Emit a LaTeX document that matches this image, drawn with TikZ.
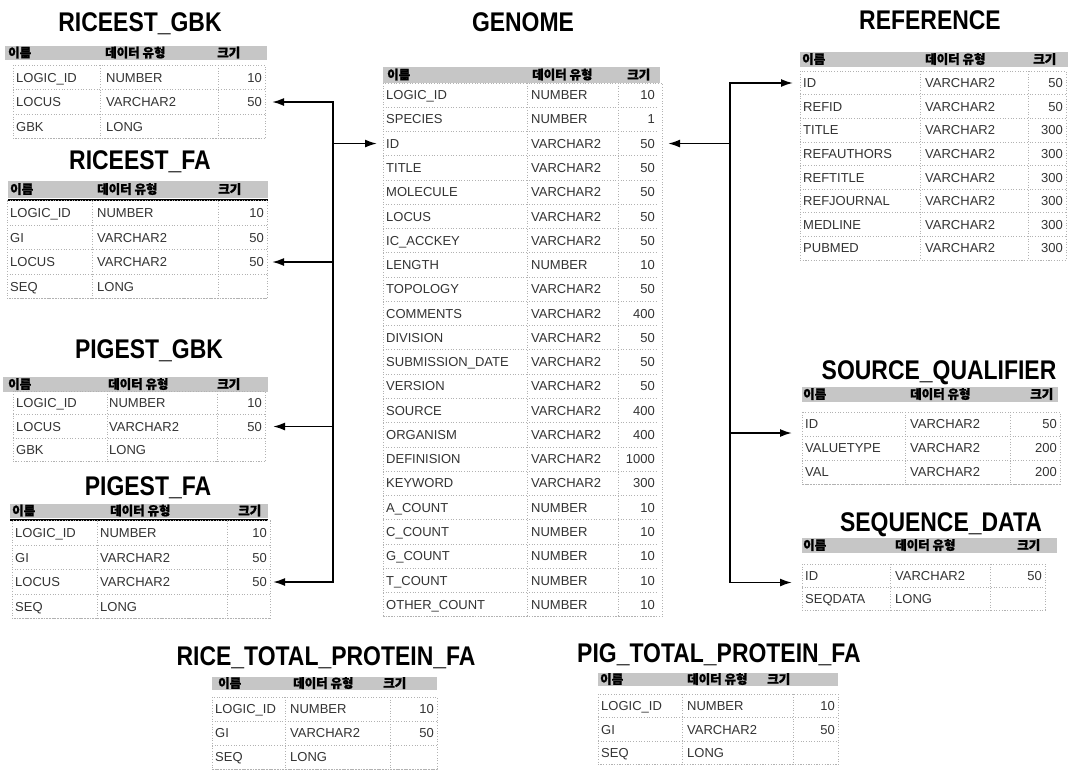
\documentclass[tikz,border=0pt]{standalone}
\usepackage{fontspec}
\setmainfont{Liberation Sans}
\newfontfamily\ttlfont[FakeStretch=0.85]{Liberation Sans}
\newfontfamily\kr{Noto Sans CJK KR}[BoldFeatures={FakeBold=1.2}]
\usetikzlibrary{arrows.meta,calc}
\tikzset{
 ttl/.style={font=\ttlfont\bfseries\fontsize{27}{30}\selectfont, inner sep=0, text height=19.3pt, text depth=0pt, anchor=center},
 hband/.style={fill=gray!45, draw=none, inner sep=0, outer sep=0},
 hlab/.style={font=\kr\bfseries\fontsize{12.5}{13}\selectfont, inner sep=0, text height=9.5pt, text depth=1pt, anchor=west},
 rowbox/.style={draw=none, inner sep=0, outer sep=0},
 cell/.style={font=\fontsize{13}{14}\selectfont, text=black!80, inner sep=0, text height=9.3pt, text depth=0pt},
 grid/.style={gray!60, dotted, line width=0.7pt},
 headrule/.style={black, line width=2pt},
 bus/.style={line width=1.8pt, black, line cap=rect},
 conn/.style={line width=1.8pt, black, -{Latex[length=12pt,width=8pt]}},
}
\newcommand\thead[8]{%
  \node[hband, minimum width={#3-#2}, minimum height={#5-#4}, anchor=north west] (#1) at (#2,#4) {};
  \node[hlab] (#1-a) at (#6,{(#4+#5)/2}) {이름};
  \node[hlab] (#1-b) at (#7,{(#4+#5)/2}) {데이터 유형};
  \node[hlab] (#1-c) at (#8,{(#4+#5)/2}) {크기};
}
\newcommand\trow[9]{%
  \node[rowbox, minimum width={#3-#2}, minimum height={#5}] (#1) at ({(#2+#3)/2},{#4}) {};
  \node[cell, anchor=west] (#1-n) at ([xshift=3pt]#1.west) {#7};
  \node[cell, anchor=west] (#1-t) at (#6,{#4}) {#8};
  \node[cell, anchor=east] (#1-s) at ([xshift=-3pt]#1.east) {#9};
  \draw[grid] (#1.south west) -- (#1.south east);
}
\newcommand\tgrid[6]{%
  \draw[grid] (#1,#3) rectangle (#2,#4);
  \draw[grid] (#5,#3) -- (#5,#4);
  \draw[grid] (#6,#3) -- (#6,#4);
}
\begin{document}
\begin{tikzpicture}[x=1pt,y=-1pt]
\useasboundingbox (0,0) rectangle (1075,769);

% ---------- RICEEST_GBK
\node[ttl] (t1-title) at (140,22) {RICEEST\_GBK};
\thead{t1-h}{5}{267}{46}{60}{8}{105}{217}
\trow{t1-1}{13}{265}{77.5}{24.5}{106}{LOGIC\_ID}{NUMBER}{10}
\trow{t1-2}{13}{265}{102}{24.5}{106}{LOCUS}{VARCHAR2}{50}
\trow{t1-3}{13}{265}{126.5}{24.5}{106}{GBK}{LONG}{}
\tgrid{13}{265}{65.25}{138.75}{100}{218}

% ---------- RICEEST_FA
\node[ttl] (t2-title) at (140,160) {RICEEST\_FA};
\thead{t2-h}{8}{268}{181}{198}{10}{97}{218}
\draw[headrule] (8,200) -- (268,200);
\trow{t2-1}{7}{267}{213}{24.5}{97}{LOGIC\_ID}{NUMBER}{10}
\trow{t2-2}{7}{267}{237.5}{24.5}{97}{GI}{VARCHAR2}{50}
\trow{t2-3}{7}{267}{262}{24.5}{97}{LOCUS}{VARCHAR2}{50}
\trow{t2-4}{7}{267}{286.5}{24.5}{97}{SEQ}{LONG}{}
\tgrid{7}{267}{200.75}{298.75}{92}{218}

% ---------- PIGEST_GBK
\node[ttl] (t3-title) at (149,349) {PIGEST\_GBK};
\thead{t3-h}{3}{268}{377}{392}{8}{108}{217}
\trow{t3-1}{13}{265}{403}{23.5}{109}{LOGIC\_ID}{NUMBER}{10}
\trow{t3-2}{13}{265}{426.5}{23.5}{109}{LOCUS}{VARCHAR2}{50}
\trow{t3-3}{13}{265}{450}{23.5}{109}{GBK}{LONG}{}
\tgrid{13}{265}{391.25}{461.75}{107}{217}

% ---------- PIGEST_FA
\node[ttl] (t4-title) at (148,486) {PIGEST\_FA};
\thead{t4-h}{10}{268}{504}{518}{12}{110}{238}
\draw[headrule] (10,520) -- (268,520);
\trow{t4-1}{12}{270}{533}{24.5}{100}{LOGIC\_ID}{NUMBER}{10}
\trow{t4-2}{12}{270}{557.5}{24.5}{100}{GI}{VARCHAR2}{50}
\trow{t4-3}{12}{270}{582}{24.5}{100}{LOCUS}{VARCHAR2}{50}
\trow{t4-4}{12}{270}{606.5}{24.5}{100}{SEQ}{LONG}{}
\tgrid{12}{270}{520.75}{618.75}{97}{227}

% ---------- GENOME
\node[ttl] (g-title) at (523,22) {GENOME};
\thead{g-h}{383}{660}{67}{83}{387}{532}{627}
\foreach \nm/\ty/\sz [count=\i] in {LOGIC\_ID/NUMBER/10, SPECIES/NUMBER/1, ID/VARCHAR2/50,
  TITLE/VARCHAR2/50, MOLECULE/VARCHAR2/50, LOCUS/VARCHAR2/50, IC\_ACCKEY/VARCHAR2/50,
  LENGTH/NUMBER/10, TOPOLOGY/VARCHAR2/50, COMMENTS/VARCHAR2/400, DIVISION/VARCHAR2/50,
  SUBMISSION\_DATE/VARCHAR2/50, VERSION/VARCHAR2/50, SOURCE/VARCHAR2/400,
  ORGANISM/VARCHAR2/400, DEFINISION/VARCHAR2/1000, KEYWORD/VARCHAR2/300,
  A\_COUNT/NUMBER/10, C\_COUNT/NUMBER/10, G\_COUNT/NUMBER/10, T\_COUNT/NUMBER/10,
  OTHER\_COUNT/NUMBER/10}{
  \trow{g-\i}{383}{658}{95+24.27*(\i-1)}{24.27}{531}{\nm}{\ty}{\sz}
}
\tgrid{383}{662}{82.87}{616.8}{527}{618}

% ---------- REFERENCE
\node[ttl] (r-title) at (930,20) {REFERENCE};
\thead{r-h}{800}{1068}{52}{67}{802}{925}{1033}
\foreach \nm/\sz [count=\i] in {ID/50, REFID/50, TITLE/300, REFAUTHORS/300, REFTITLE/300,
  REFJOURNAL/300, MEDLINE/300, PUBMED/300}{
  \trow{r-\i}{800}{1066}{83+23.6*(\i-1)}{23.6}{925}{\nm}{VARCHAR2}{\sz}
}
\tgrid{800}{1066}{71.2}{260}{920}{1028}

% ---------- SOURCE_QUALIFIER
\node[ttl] (sq-title) at (939,370) {SOURCE\_QUALIFIER};
\thead{sq-h}{802}{1058}{387}{402}{803}{910}{1030}
\trow{sq-1}{802}{1060}{424}{24}{910}{ID}{VARCHAR2}{50}
\trow{sq-2}{802}{1060}{448}{24}{910}{VALUETYPE}{VARCHAR2}{200}
\trow{sq-3}{802}{1060}{472}{24}{910}{VAL}{VARCHAR2}{200}
\tgrid{802}{1060}{412}{484}{905}{1010}

% ---------- SEQUENCE_DATA
\node[ttl] (sd-title) at (941,522) {SEQUENCE\_DATA};
\thead{sd-h}{802}{1057}{538}{553}{803}{895}{1017}
\trow{sd-1}{802}{1045}{575.5}{23}{895}{ID}{VARCHAR2}{50}
\trow{sd-2}{802}{1045}{598.5}{23}{895}{SEQDATA}{LONG}{}
\tgrid{802}{1045}{564}{610}{890}{990}

% ---------- RICE_TOTAL_PROTEIN_FA
\node[ttl] (rp-title) at (326,656) {RICE\_TOTAL\_PROTEIN\_FA};
\thead{rp-h}{212}{437}{677}{690}{218}{293}{383}
\trow{rp-1}{212}{437}{709}{24}{290}{LOGIC\_ID}{NUMBER}{10}
\trow{rp-2}{212}{437}{733}{24}{290}{GI}{VARCHAR2}{50}
\trow{rp-3}{212}{437}{757}{24}{290}{SEQ}{LONG}{}
\tgrid{212}{437}{697}{769}{285}{390}

% ---------- PIG_TOTAL_PROTEIN_FA
\node[ttl] (pp-title) at (719,653) {PIG\_TOTAL\_PROTEIN\_FA};
\thead{pp-h}{598}{838}{673}{686}{600}{687}{767}
\trow{pp-1}{598}{838}{706}{23.5}{687}{LOGIC\_ID}{NUMBER}{10}
\trow{pp-2}{598}{838}{729.5}{23.5}{687}{GI}{VARCHAR2}{50}
\trow{pp-3}{598}{838}{753}{23.5}{687}{SEQ}{LONG}{}
\tgrid{598}{838}{694.25}{764.75}{682}{793}

% ---------- connectors
\coordinate (busL) at (333,0);
\coordinate (busR) at (730,0);
\coordinate (sqA) at ([yshift=-9pt]sq-1.west);
\coordinate (sdA) at ([yshift=-7pt]sd-1.west);

\draw[bus] (busL |- t1-2) -- (busL |- t4-3);
\draw[conn] (busL |- t1-2) -- ([xshift=7pt]t1-2.east);
\draw[conn] (busL |- t2-3) -- ([xshift=5pt]t2-3.east);
\draw[conn] (busL |- t3-2) -- ([xshift=8pt]t3-2.east);
\draw[conn] (busL |- t4-3) -- ([xshift=3pt]t4-3.east);
\draw[conn] (busL |- g-3) -- ([xshift=-6pt]g-3.west);

\draw[bus] (busR |- r-1) -- (busR |- sdA);
\draw[conn] (busR |- g-3) -- ([xshift=10pt]g-3.east);
\draw[conn] (busR |- r-1) -- ([xshift=-7pt]r-1.west);
\draw[conn] (busR |- sqA) -- ([xshift=-10pt]sqA);
\draw[conn] (busR |- sdA) -- ([xshift=-10pt]sdA);
\end{tikzpicture}
\end{document}
